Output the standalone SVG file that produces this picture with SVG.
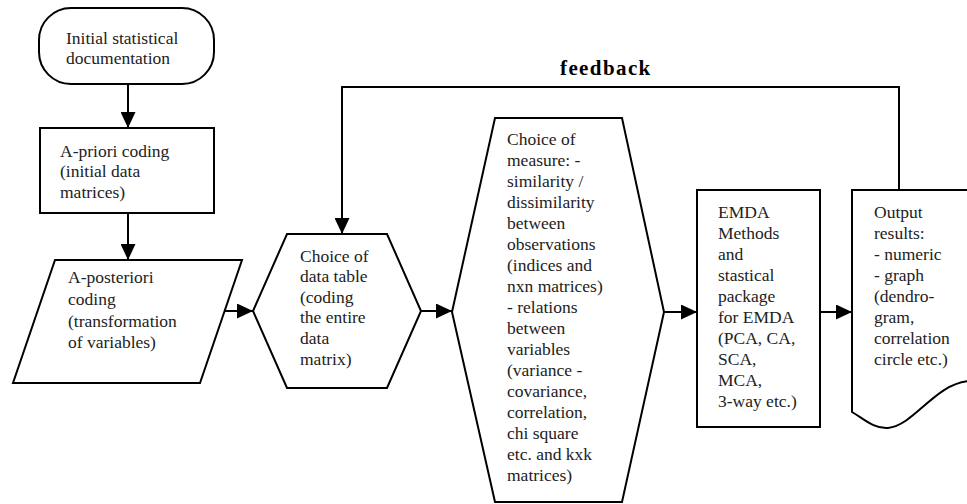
<svg xmlns="http://www.w3.org/2000/svg" width="967" height="504" viewBox="0 0 967 504">
<style>
.s{fill:#fff;stroke:#000;stroke-width:2}
.t{font-size:17.5px;fill:#222}
.c{fill:none;stroke:#000;stroke-width:2}
.fb{font-size:21px;font-weight:bold;letter-spacing:1.4px;fill:#000}
</style>
<defs>
<marker id="ah" markerUnits="userSpaceOnUse" markerWidth="16" markerHeight="15" refX="16" refY="7.5" orient="auto">
<path d="M0,0 L16,7.5 L0,15 z" fill="#000"/>
</marker>
</defs>
<rect width="967" height="504" fill="#fff"/>
<g font-family="'Liberation Serif', 'Times New Roman', serif">
<g id="connectors">
<line class="c" x1="128" y1="84" x2="128" y2="128" marker-end="url(#ah)"/>
<line class="c" x1="128" y1="213" x2="128" y2="260" marker-end="url(#ah)"/>
<line class="c" x1="222" y1="311" x2="253" y2="311" marker-end="url(#ah)"/>
<line class="c" x1="421" y1="311" x2="452" y2="311" marker-end="url(#ah)"/>
<line class="c" x1="664" y1="312" x2="697" y2="312" marker-end="url(#ah)"/>
<line class="c" x1="820" y1="312" x2="852" y2="312" marker-end="url(#ah)"/>
<polyline class="c" points="899,190 899,87 342,87 342,234" marker-end="url(#ah)"/>
<text class="fb" x="560" y="75">feedback</text>
</g>
<g id="n1">
<rect class="s" x="39" y="8" width="175" height="76" rx="32" ry="32"/>
<text class="t" x="66" y="44">Initial statistical</text>
<text class="t" x="66" y="64">documentation</text>
</g>
<g id="n2">
<rect class="s" x="40" y="128" width="174" height="85"/>
<text class="t" x="60" y="157">A-priori coding</text>
<text class="t" x="60" y="177">(initial data</text>
<text class="t" x="60" y="198">matrices)</text>
</g>
<g id="n3">
<polygon class="s" points="55,260 242,260 200,383 13,383"/>
<text class="t" x="68" y="283">A-posteriori</text>
<text class="t" x="68" y="305">coding</text>
<text class="t" x="68" y="327">(transformation</text>
<text class="t" x="68" y="348">of variables)</text>
</g>
<g id="n4">
<polygon class="s" points="253,311 287,234 387,234 421,311 387,388 287,388"/>
<text class="t" x="300" y="262">Choice of</text>
<text class="t" x="300" y="282">data table</text>
<text class="t" x="300" y="303">(coding</text>
<text class="t" x="300" y="323">the entire</text>
<text class="t" x="300" y="344">data</text>
<text class="t" x="300" y="365">matrix)</text>
</g>
<g id="n5">
<polygon class="s" points="452,312 495,118 622,118 664,312 622,502 495,502"/>
<text class="t" x="507" y="145">Choice of</text>
<text class="t" x="507" y="166">measure: -</text>
<text class="t" x="507" y="187">similarity /</text>
<text class="t" x="507" y="208">dissimilarity</text>
<text class="t" x="507" y="229">between</text>
<text class="t" x="507" y="250">observations</text>
<text class="t" x="507" y="271">(indices and</text>
<text class="t" x="507" y="292">nxn matrices)</text>
<text class="t" x="507" y="313">- relations</text>
<text class="t" x="507" y="334">between</text>
<text class="t" x="507" y="355">variables</text>
<text class="t" x="507" y="376">(variance -</text>
<text class="t" x="507" y="397">covariance,</text>
<text class="t" x="507" y="418">correlation,</text>
<text class="t" x="507" y="439">chi square</text>
<text class="t" x="507" y="460">etc. and kxk</text>
<text class="t" x="507" y="481">matrices)</text>
</g>
<g id="n6">
<rect class="s" x="697" y="190" width="123" height="237"/>
<text class="t" x="718" y="218">EMDA</text>
<text class="t" x="718" y="239">Methods</text>
<text class="t" x="718" y="260">and</text>
<text class="t" x="718" y="281">stastical</text>
<text class="t" x="718" y="302">package</text>
<text class="t" x="718" y="323">for EMDA</text>
<text class="t" x="718" y="344">(PCA, CA,</text>
<text class="t" x="718" y="365">SCA,</text>
<text class="t" x="718" y="386">MCA,</text>
<text class="t" x="718" y="407">3-way etc.)</text>
</g>
<g id="n7">
<path class="s" d="M990,190 H852 V412 C864,419 874,429 888,428 C915,425 935,383 970,381 L990,381 Z"/>
<text class="t" x="874" y="218">Output</text>
<text class="t" x="874" y="239">results:</text>
<text class="t" x="874" y="260">- numeric</text>
<text class="t" x="874" y="281">- graph</text>
<text class="t" x="874" y="302">(dendro-</text>
<text class="t" x="874" y="323">gram,</text>
<text class="t" x="874" y="344">correlation</text>
<text class="t" x="874" y="365">circle etc.)</text>
</g>
</g>
</svg>
